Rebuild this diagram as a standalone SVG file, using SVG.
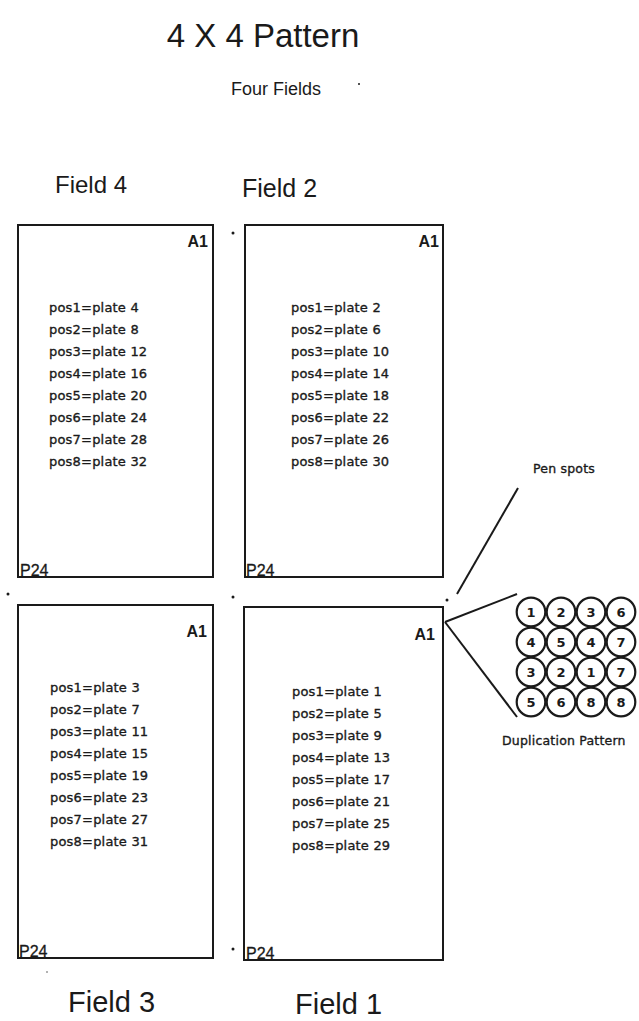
<svg xmlns="http://www.w3.org/2000/svg" width="639" height="1021" viewBox="0 0 639 1021">
<style>
.box{fill:none;stroke:#1a1a1a;stroke-width:2}
.ttl{font-family:"Liberation Sans",Arial,sans-serif;fill:#1a1a1a}
.pos{font-family:"DejaVu Sans",sans-serif;font-size:13px;letter-spacing:0.2px;fill:#1a1a1a;stroke:#1a1a1a;stroke-width:0.35}
.a1{font-family:"Liberation Sans",Arial,sans-serif;font-size:16px;font-weight:bold;fill:#1a1a1a}
.p24{font-family:"Liberation Sans",Arial,sans-serif;font-size:16px;fill:#1a1a1a;stroke:#1a1a1a;stroke-width:0.3}
.sm{font-family:"DejaVu Sans",sans-serif;font-size:12.5px;letter-spacing:0.2px;fill:#1a1a1a;stroke:#1a1a1a;stroke-width:0.35}
.dot{fill:#1a1a1a}
.circ{fill:#fff;stroke:#1a1a1a;stroke-width:2.2}
.num{font-family:"DejaVu Sans",sans-serif;font-size:13px;font-weight:bold;fill:#1a1a1a;text-anchor:middle}
.ln{stroke:#1a1a1a;stroke-width:2;fill:none}
</style>
<rect width="639" height="1021" fill="#fff"/>
<text class="ttl" x="263" y="47" font-size="33" text-anchor="middle">4 X 4 Pattern</text>
<text class="ttl" x="276" y="95" font-size="18" text-anchor="middle">Four Fields</text>
<circle class="dot" cx="359" cy="84" r="1"/>

<g id="field4">
<text class="ttl" x="55" y="193" font-size="24">Field 4</text>
<rect class="box" x="18" y="225" width="195" height="352"/>
<text class="a1" x="208" y="247" text-anchor="end">A1</text>
<text class="pos" x="49" y="312">pos1=plate 4</text>
<text class="pos" x="49" y="334">pos2=plate 8</text>
<text class="pos" x="49" y="356">pos3=plate 12</text>
<text class="pos" x="49" y="378">pos4=plate 16</text>
<text class="pos" x="49" y="400">pos5=plate 20</text>
<text class="pos" x="49" y="422">pos6=plate 24</text>
<text class="pos" x="49" y="444">pos7=plate 28</text>
<text class="pos" x="49" y="466">pos8=plate 32</text>
<text class="p24" x="20" y="576">P24</text>
</g>

<g id="field2">
<text class="ttl" x="242" y="197" font-size="25">Field 2</text>
<rect class="box" x="245" y="225" width="198" height="352"/>
<text class="a1" x="439" y="247" text-anchor="end">A1</text>
<text class="pos" x="291" y="312">pos1=plate 2</text>
<text class="pos" x="291" y="334">pos2=plate 6</text>
<text class="pos" x="291" y="356">pos3=plate 10</text>
<text class="pos" x="291" y="378">pos4=plate 14</text>
<text class="pos" x="291" y="400">pos5=plate 18</text>
<text class="pos" x="291" y="422">pos6=plate 22</text>
<text class="pos" x="291" y="444">pos7=plate 26</text>
<text class="pos" x="291" y="466">pos8=plate 30</text>
<text class="p24" x="246" y="576">P24</text>
</g>

<g id="field3">
<rect class="box" x="18" y="605" width="195" height="353"/>
<text class="a1" x="207" y="637" text-anchor="end">A1</text>
<text class="pos" x="50" y="692">pos1=plate 3</text>
<text class="pos" x="50" y="714">pos2=plate 7</text>
<text class="pos" x="50" y="736">pos3=plate 11</text>
<text class="pos" x="50" y="758">pos4=plate 15</text>
<text class="pos" x="50" y="780">pos5=plate 19</text>
<text class="pos" x="50" y="802">pos6=plate 23</text>
<text class="pos" x="50" y="824">pos7=plate 27</text>
<text class="pos" x="50" y="846">pos8=plate 31</text>
<text class="p24" x="19" y="957">P24</text>
<text class="ttl" x="68" y="1012" font-size="29">Field 3</text>
</g>

<g id="field1">
<rect class="box" x="244" y="607" width="199" height="353"/>
<text class="a1" x="435" y="640" text-anchor="end">A1</text>
<text class="pos" x="292" y="696">pos1=plate 1</text>
<text class="pos" x="292" y="718">pos2=plate 5</text>
<text class="pos" x="292" y="740">pos3=plate 9</text>
<text class="pos" x="292" y="762">pos4=plate 13</text>
<text class="pos" x="292" y="784">pos5=plate 17</text>
<text class="pos" x="292" y="806">pos6=plate 21</text>
<text class="pos" x="292" y="828">pos7=plate 25</text>
<text class="pos" x="292" y="850">pos8=plate 29</text>
<text class="p24" x="246" y="959">P24</text>
<text class="ttl" x="295" y="1014" font-size="29">Field 1</text>
</g>

<g id="pen-spots">
<circle class="dot" cx="8" cy="594" r="1.5"/>
<circle class="dot" cx="233" cy="233" r="1.5"/>
<circle class="dot" cx="233" cy="597" r="1.5"/>
<circle class="dot" cx="447" cy="600" r="1.5"/>
<circle class="dot" cx="233" cy="949" r="1.5"/>
<circle cx="47" cy="972" r="1" fill="#999"/>
<text class="sm" x="533" y="473">Pen spots</text>
</g>

<g id="connectors">
<line class="ln" x1="518" y1="488" x2="457" y2="594"/>
<line class="ln" x1="445" y1="622" x2="517" y2="594"/>
<line class="ln" x1="445" y1="622" x2="517" y2="717"/>
</g>

<g id="duplication-pattern">
<circle class="circ" cx="531" cy="612" r="14.3"/>
<circle class="circ" cx="561" cy="612" r="14.3"/>
<circle class="circ" cx="591" cy="612" r="14.3"/>
<circle class="circ" cx="621" cy="612" r="14.3"/>
<circle class="circ" cx="531" cy="642" r="14.3"/>
<circle class="circ" cx="561" cy="642" r="14.3"/>
<circle class="circ" cx="591" cy="642" r="14.3"/>
<circle class="circ" cx="621" cy="642" r="14.3"/>
<circle class="circ" cx="531" cy="672" r="14.3"/>
<circle class="circ" cx="561" cy="672" r="14.3"/>
<circle class="circ" cx="591" cy="672" r="14.3"/>
<circle class="circ" cx="621" cy="672" r="14.3"/>
<circle class="circ" cx="531" cy="702" r="14.3"/>
<circle class="circ" cx="561" cy="702" r="14.3"/>
<circle class="circ" cx="591" cy="702" r="14.3"/>
<circle class="circ" cx="621" cy="702" r="14.3"/>
<text class="num" x="531" y="617">1</text>
<text class="num" x="561" y="617">2</text>
<text class="num" x="591" y="617">3</text>
<text class="num" x="621" y="617">6</text>
<text class="num" x="531" y="647">4</text>
<text class="num" x="561" y="647">5</text>
<text class="num" x="591" y="647">4</text>
<text class="num" x="621" y="647">7</text>
<text class="num" x="531" y="677">3</text>
<text class="num" x="561" y="677">2</text>
<text class="num" x="591" y="677">1</text>
<text class="num" x="621" y="677">7</text>
<text class="num" x="531" y="707">5</text>
<text class="num" x="561" y="707">6</text>
<text class="num" x="591" y="707" font-size="11">8</text>
<text class="num" x="621" y="707" font-size="11">8</text>
<text class="sm" x="502" y="745">Duplication Pattern</text>
</g>
</svg>
